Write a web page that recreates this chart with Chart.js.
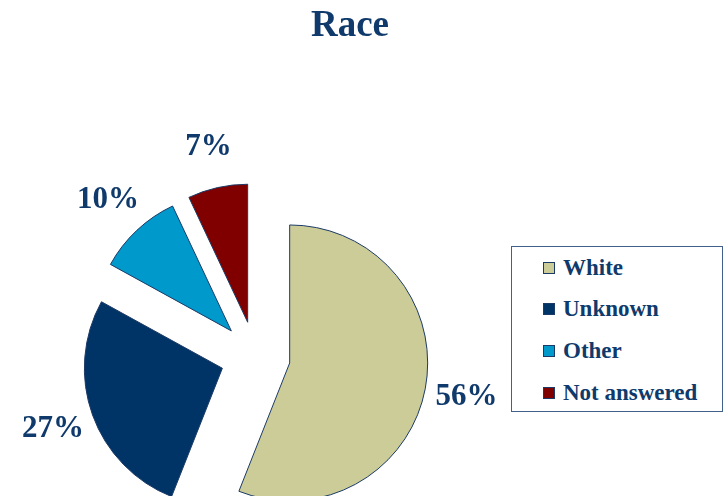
<!DOCTYPE html>
<html>
<head>
<meta charset="utf-8">
<title>Race</title>
<script src="https://cdn.jsdelivr.net/npm/chart.js@4.4.1/dist/chart.umd.min.js"></script>
<style>
  html, body { margin: 0; padding: 0; background: #fff; }
  #wrap { position: relative; width: 725px; height: 496px; overflow: hidden; }
  #race-chart { position: absolute; left: 0; top: 0; }
  #chart-title {
    position: absolute; left: 0; top: 2px; width: 700px; margin: 0;
    text-align: center; line-height: 44px;
    font: bold 37px 'Liberation Serif', 'Times New Roman', serif; color: #0F3A6B;
  }
  #legend {
    position: absolute; left: 511px; top: 246px; width: 212px; height: 166px;
    box-sizing: border-box; border: 1px solid #41618C; background: #fff;
  }
  .legend-item {
    display: flex; align-items: center; height: 41.6px; padding-left: 31px;
    font: bold 23px 'Liberation Serif', 'Times New Roman', serif; color: #0F3A6B;
  }
  .legend-item .swatch {
    width: 10px; height: 10px; border: 1px solid #1B3A66; margin-right: 8px; flex: none;
  }
</style>
</head>
<body>
<div id="wrap">
  <canvas id="race-chart" width="725" height="496"></canvas>
  <h1 id="chart-title">Race</h1>
  <div id="legend"></div>
</div>
<script>
const categories = ['White', 'Unknown', 'Other', 'Not answered'];
const shares = [56, 27, 10, 7];
const sliceColors = ['#CCCC99', '#003366', '#0099CC', '#800000'];

const TEXT_COLOR = '#0F3A6B';
const RADIUS = 138;
const GAP = 35;

// pull each slice outward by the same distance, keeping one radius for all
const explodePlugin = {
  id: 'explode',
  beforeDatasetDraw(chart, args) {
    const ctx = chart.ctx;
    args.meta.data.forEach((arc) => {
      const mid = (arc.startAngle + arc.endAngle) / 2;
      ctx.save();
      ctx.translate(Math.cos(mid) * GAP, Math.sin(mid) * GAP);
      arc.draw(ctx);
      ctx.restore();
    });
    return false;
  },
};

const percentLabels = {
  id: 'percentLabels',
  afterDatasetsDraw(chart) {
    const ctx = chart.ctx;
    const meta = chart.getDatasetMeta(0);
    ctx.save();
    ctx.font = 'bold 31px "Liberation Serif", "Times New Roman", serif';
    ctx.fillStyle = TEXT_COLOR;
    ctx.textAlign = 'center';
    ctx.textBaseline = 'middle';
    meta.data.forEach((arc, i) => {
      const mid = (arc.startAngle + arc.endAngle) / 2;
      const dist = arc.outerRadius + GAP + 42;
      ctx.fillText(shares[i] + '%', arc.x + Math.cos(mid) * dist, arc.y + Math.sin(mid) * dist);
    });
    ctx.restore();
  },
};

new Chart(document.getElementById('race-chart'), {
  type: 'pie',
  data: {
    labels: categories,
    datasets: [{
      data: shares,
      backgroundColor: sliceColors,
      borderColor: '#1B3A66',
      borderWidth: 1,
    }],
  },
  options: {
    responsive: false,
    devicePixelRatio: 1,
    animation: false,
    events: [],
    radius: RADIUS,
    layout: { padding: { left: 0, right: 214.4, top: 216.8, bottom: 0 } },
    plugins: {
      legend: { display: false },
      tooltip: { enabled: false },
    },
  },
  plugins: [explodePlugin, percentLabels],
});

document.getElementById('legend').innerHTML = categories
  .map((name, i) => `
    <div class="legend-item">
      <span class="swatch" style="background:${sliceColors[i]}"></span>${name}
    </div>`)
  .join('');
</script>
</body>
</html>
